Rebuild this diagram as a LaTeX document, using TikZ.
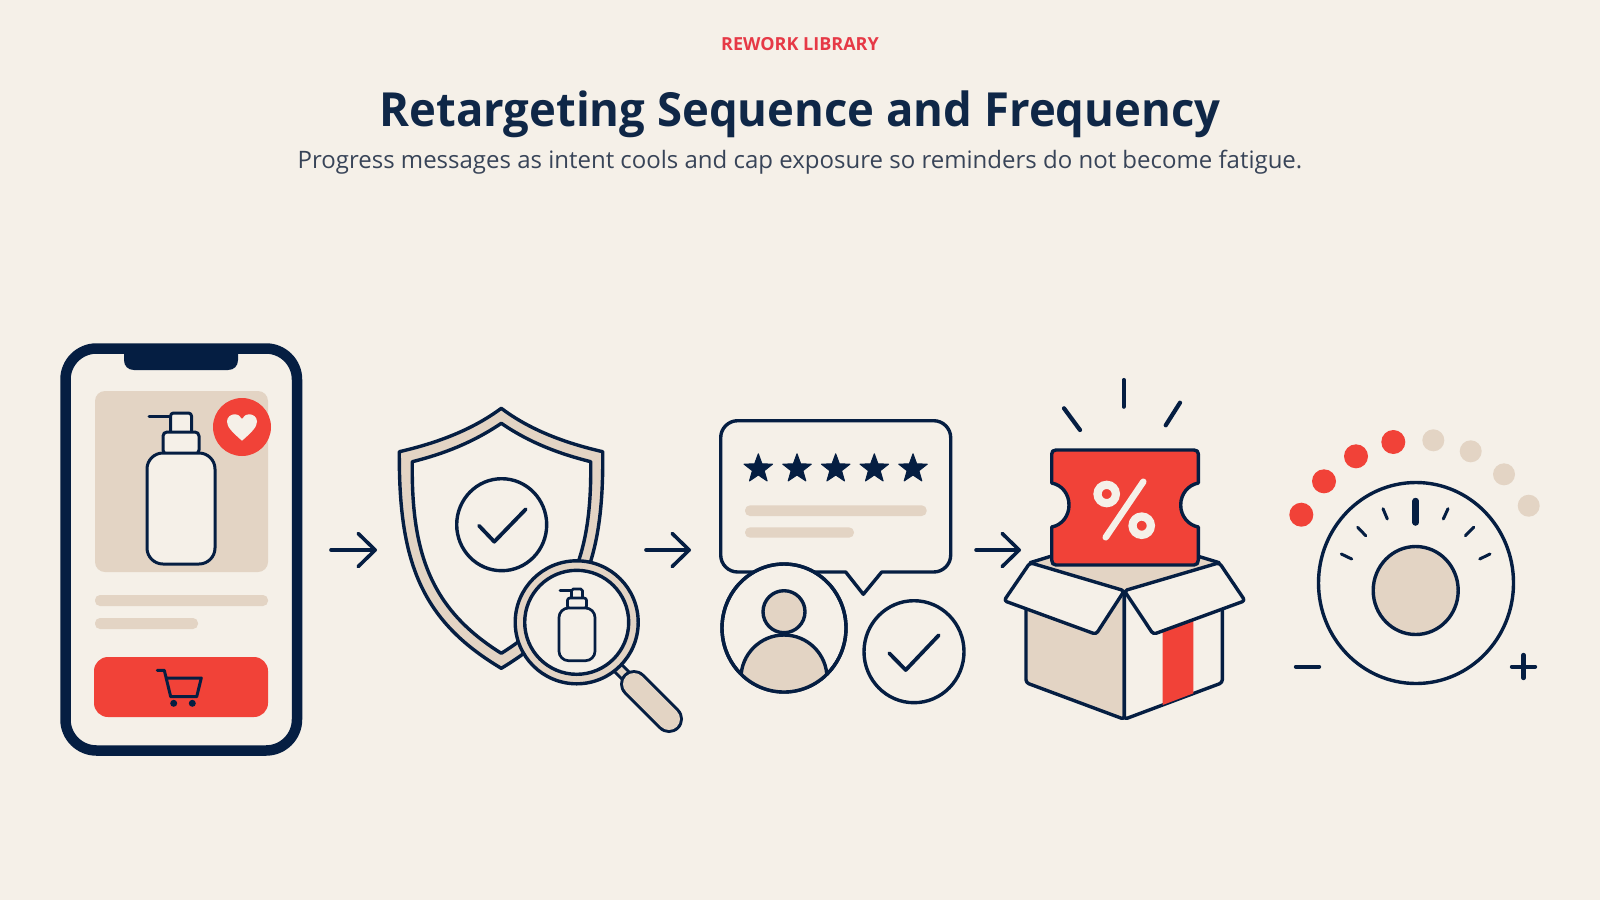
\documentclass[tikz,border=0pt]{standalone}
\usepackage{fontspec}
\setmainfont{Open Sans}
\newfontfamily\headingfont[FakeStretch=0.967]{Open Sans}
\usetikzlibrary{arrows.meta,calc}
\definecolor{paper}{HTML}{F5F0E8}
\definecolor{ink}{HTML}{051E42}
\definecolor{sand}{HTML}{E3D4C4}
\definecolor{coral}{HTML}{F14238}
\definecolor{eyebrow}{HTML}{E63946}
\definecolor{titleink}{HTML}{0F2747}
\definecolor{subink}{HTML}{384458}
\tikzset{
  outline/.style={draw=ink,line width=3.4pt,line join=round,line cap=round},
  thin outline/.style={draw=ink,line width=3pt,line join=round,line cap=round},
  flowline/.style={draw=ink,line width=3.6pt,line cap=round,-{Straight Barb[length=17pt,width=33pt,round]}},
  softbar/.style={fill=sand,rounded corners=5pt},
  tick/.style={draw=ink,line width=3pt,line cap=round},
  ray/.style={draw=ink,line width=4.2pt,line cap=round},
  pct/.style={draw=paper,line width=8.2pt,line cap=round},
}
% Pump bottle drawn upward from the centre of its base
\newcommand{\pumpbottle}[4]{%
  \begin{scope}[shift={(#1)},xscale=#2,yscale=#3]
    \path[thin outline,fill=paper,rounded corners=#4*3pt] (-10.5,-132) -- (-10.5,-151) -- (10.5,-151) -- (10.5,-132);
    \path[thin outline] (-10.5,-148) -- (-32,-148);
    \path[thin outline,fill=paper,rounded corners=#4*4pt] (-18,-110) -- (-18,-132) -- (18,-132) -- (18,-110) -- cycle;
    \path[thin outline,fill=paper,rounded corners=#4*16pt] (-34,0) -- (-34,-111) -- (34,-111) -- (34,0) -- cycle;
  \end{scope}}
% Five-pointed star with slightly softened points
\newcommand{\ratingstar}[1]{%
  \fill[ink,draw=ink,line width=1pt,line join=round,shift={(#1)}]
    (90:-15) -- (126:-6.2) -- (162:-15) -- (198:-6.2) -- (234:-15)
    -- (270:-6.2) -- (306:-15) -- (342:-6.2) -- (18:-15) -- (54:-6.2) -- cycle;}
\begin{document}
\begin{tikzpicture}[x=1pt,y=-1pt]
\useasboundingbox[fill=paper] (0,0) rectangle (1600,900);

% Heading
\node[anchor=base,inner sep=0pt,text=eyebrow,font=\fontsize{18}{20}\selectfont\bfseries] (eyebrowtext) at (800,50) {REWORK LIBRARY};
\node[anchor=base,inner sep=0pt,text=titleink,font=\headingfont\fontsize{47}{52}\selectfont\bfseries] (titletext) at (800,126) {Retargeting Sequence and Frequency};
\node[anchor=base,inner sep=0pt,text=subink,font=\fontsize{24}{28}\selectfont] (subtitletext) at (800,168) {Progress messages as intent cools and cap exposure so reminders do not become fatigue.};

% Phone
\draw[draw=ink,fill=paper,line width=10.5pt,rounded corners=31pt] (65.5,348.5) rectangle (297,750.5);
\fill[ink] (124,345) -- (124,360) .. controls (124,366) and (128,370) .. (134,370)
  -- (228,370) .. controls (234,370) and (238,366) .. (238,360) -- (238,345) -- cycle;
\fill[sand,rounded corners=10pt] (95,391) rectangle (268,572);
\pumpbottle{181,564}{1}{1}{1}
\fill[coral] (242,427) circle[radius=29];
\fill[paper] (242,440.7) .. controls (232,432) and (227,427) .. (227,421.5)
  .. controls (227,417) and (231,414.3) .. (234.5,414.3)
  .. controls (238,414.3) and (240.5,416) .. (242,419)
  .. controls (243.5,416) and (246,414.3) .. (249.5,414.3)
  .. controls (253,414.3) and (257,417) .. (257,421.5)
  .. controls (257,427) and (252,432) .. (242,440.7) -- cycle;
\path[softbar] (95,595) rectangle (268,606);
\path[softbar] (95,618) rectangle (198,629);
\fill[coral,rounded corners=14pt] (94,657) rectangle (268,717);
\draw[thin outline] (157.3,670.3) -- (164.3,670.3) -- (170.7,696.7) -- (196.7,696.7) -- (201.3,678) -- (166,678);
\fill[ink] (173.7,703.3) circle[radius=3.5] (192.3,703.3) circle[radius=3.5];

% Flow arrows
\coordinate (a1s) at (331,550); \coordinate (a1e) at (377,550);
\coordinate (a2s) at (646,550); \coordinate (a2e) at (691,550);
\coordinate (a3s) at (976,550); \coordinate (a3e) at (1021,550);
\draw[flowline] (a1s) -- (a1e);
\draw[flowline] (a2s) -- (a2e);
\draw[flowline] (a3s) -- (a3e);

% Shield with check
\path[outline,fill=sand] (501.3,408.3) .. controls (530,430) and (565,443) .. (602.7,451.7)
  .. controls (604,560) and (582,620) .. (501.3,668.3)
  .. controls (420,620) and (398.7,560) .. (399.3,451.7)
  .. controls (437,443) and (472,430) .. (501.3,408.3) -- cycle;
\path[outline,fill=paper] (501.3,423.3) .. controls (530,443) and (560,454) .. (590.7,461.7)
  .. controls (592,555) and (571,610) .. (501.3,653.3)
  .. controls (432,610) and (411,555) .. (412.3,461.7)
  .. controls (443,454) and (472,443) .. (501.3,423.3) -- cycle;
\path[outline,fill=paper] (501.7,524.7) ellipse[x radius=45,y radius=46];
\draw[draw=ink,line width=3.8pt,line cap=round,line join=round] (479,525.7) -- (494.3,541.7) -- (525.7,509.3);

% Magnifier
\draw[ink,line width=13pt] (616,666) -- (634,684);
\draw[sand,line width=7pt] (616,666) -- (634,684);
\draw[ink,line width=28pt,line cap=round] (634,684) -- (669,719);
\draw[sand,line width=22pt,line cap=round] (634,684) -- (669,719);
\path[outline,fill=sand] (576.7,622.3) circle[radius=61.5];
\path[outline,fill=paper] (576.7,622.3) circle[radius=52];
\begin{scope}
  \tikzset{thin outline/.append style={line width=2.7pt}}
  \pumpbottle{577,660.7}{.53}{.475}{.6}
\end{scope}

% Review bubble
\path[outline,fill=paper] (737.7,420.7) -- (933.7,420.7)
  .. controls (943,420.7) and (950.7,428.3) .. (950.7,437.7) -- (950.7,555)
  .. controls (950.7,564.4) and (943,572) .. (933.7,572)
  -- (881.7,572) -- (863.3,594.3) -- (845.7,572) -- (737.7,572)
  .. controls (728.3,572) and (720.7,564.4) .. (720.7,555) -- (720.7,437.7)
  .. controls (720.7,428.3) and (728.3,420.7) .. (737.7,420.7) -- cycle;
\ratingstar{758.3,468.8}
\ratingstar{797,468.8}
\ratingstar{835.7,468.8}
\ratingstar{874.3,468.8}
\ratingstar{913,468.8}
\path[softbar] (745,505.3) rectangle (926.7,516);
\path[softbar] (745,527.3) rectangle (854,537.7);

% Reviewer portrait
\path[outline,fill=paper] (784,628) ellipse[x radius=62,y radius=64];
\begin{scope}
  \clip (784,628) ellipse[x radius=62,y radius=64];
  \path[outline,fill=sand] (784,678) circle[radius=43];
\end{scope}
\draw[outline] (784,628) ellipse[x radius=62,y radius=64];
\path[outline,fill=sand] (784,611.7) circle[radius=21];

% Verified badge
\path[outline,fill=paper] (914,651.7) ellipse[x radius=50,y radius=51];
\draw[draw=ink,line width=3.8pt,line cap=round,line join=round] (889.3,653.3) -- (905.7,670) -- (938.7,635.3);

% Opened box with coupon
\path[fill=sand] (1030,562.7) -- (1124.3,535) -- (1219.3,562.7) -- (1124.3,590.7) -- cycle;
\draw[outline] (1030,562.7) -- (1055,555);
\draw[outline] (1219.3,562.7) -- (1194,555);
\path[outline,fill=sand,rounded corners=3pt] (1026,600) -- (1026,682.7) -- (1124.3,719.3) -- (1124.3,590.7) -- cycle;
\path[outline,fill=paper,rounded corners=3pt] (1222.3,600) -- (1222.3,682.7) -- (1124.3,719.3) -- (1124.3,590.7) -- cycle;
\fill[coral] (1162.7,610) -- (1193.3,600) -- (1193.3,693.3) -- (1162.7,705) -- cycle;
\path[outline,fill=paper,rounded corners=3pt] (1030,562.7) -- (1124.3,590.7) -- (1096,634.3) -- (1004,600.7) -- cycle;
\path[outline,fill=paper,rounded corners=3pt] (1124.3,590.7) -- (1219.3,562.7) -- (1245,600.7) -- (1153.3,634.3) -- cycle;
\path[outline,fill=coral] (1056,450) -- (1194,450)
  .. controls (1197,450) and (1198.3,451.5) .. (1198.3,454) -- (1198.3,483)
  .. controls (1188,485) and (1180.7,494) .. (1180.7,505)
  .. controls (1180.7,516) and (1188,525) .. (1198.3,527) -- (1198.3,560)
  .. controls (1198.3,563) and (1197,565) .. (1194,565) -- (1056,565)
  .. controls (1053,565) and (1051.7,563) .. (1051.7,560) -- (1051.7,527)
  .. controls (1062,525) and (1069,516) .. (1069,505)
  .. controls (1069,494) and (1062,485) .. (1051.7,483) -- (1051.7,454)
  .. controls (1051.7,451.5) and (1053,450) .. (1056,450) -- cycle;
\draw[pct] (1106.7,494) circle[radius=9.2];
\draw[pct] (1141.7,525.7) circle[radius=9.2];
\draw[pct,line width=6.5pt] (1143.3,481.7) -- (1105.7,537.3);
\draw[ray] (1123.7,380) -- (1123.7,406.7);
\draw[ray] (1064,408.3) -- (1080,430);
\draw[ray] (1180,402.7) -- (1165.7,425.3);

% Frequency dial
\fill[coral] (1301.3,514.7) circle[radius=12] (1324,481.3) circle[radius=12] (1356,456.3) circle[radius=12] (1393.3,442) circle[radius=12];
\fill[sand] (1433.3,440.3) circle[radius=11] (1470.7,451.3) circle[radius=11] (1504,474.3) circle[radius=11] (1528.7,505.7) circle[radius=11];
\path[outline,fill=paper] (1416,583) ellipse[x radius=97.5,y radius=100.5];
\path[outline,fill=sand] (1415.7,590.5) ellipse[x radius=42.5,y radius=44];
\draw[ink,line width=6.5pt,line cap=round] (1415.7,501) -- (1415.7,522.5);
\draw[tick] (1383,508.7) -- (1387.3,519);
\draw[tick] (1357.7,527.3) -- (1365.7,535.7);
\draw[tick] (1341.3,554) -- (1351.7,559);
\draw[tick] (1448,508.7) -- (1443.3,519);
\draw[tick] (1473.7,527.3) -- (1465.3,535.7);
\draw[tick] (1490,554) -- (1479.7,559);
\draw[ink,line width=4.4pt,line cap=round] (1296,666.7) -- (1319,666.7);
\draw[ink,line width=4.4pt,line cap=round] (1512,666.7) -- (1535,666.7);
\draw[ink,line width=4.4pt,line cap=round] (1523.5,655) -- (1523.5,678);
\end{tikzpicture}
\end{document}
